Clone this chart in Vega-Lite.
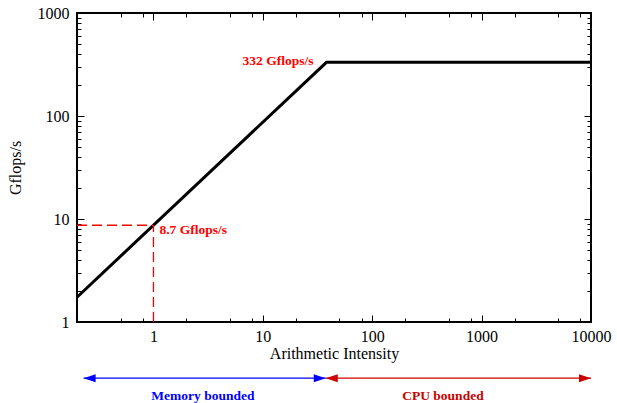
{
  "$schema": "https://vega.github.io/schema/vega-lite/v6.json",
  "width": 514,
  "height": 309,
  "autosize": {"type": "none"},
  "padding": {"left": 77, "top": 13, "right": 26, "bottom": 81},
  "background": "white",
  "config": {
    "font": "Liberation Serif",
    "view": {"stroke": "black", "strokeWidth": 2},
    "axis": {
      "domain": false,
      "ticks": true,
      "tickColor": "black",
      "tickWidth": 1,
      "labelFont": "Liberation Serif",
      "labelFontSize": 16,
      "labelColor": "black",
      "titleFont": "Liberation Serif",
      "titleFontSize": 16,
      "titleFontWeight": "normal",
      "titleColor": "black",
      "grid": false,
      "labelOverlap": false,
      "labelFlush": false
    }
  },
  "datasets": {
    "roof": [
      {"ai": 0.2, "gf": 1.74},
      {"ai": 38.16, "gf": 332},
      {"ai": 10000, "gf": 332}
    ],
    "hdash": [{"ai": 0.2, "ai2": 1, "gf": 8.7}],
    "vdash": [{"ai": 1, "gf": 1, "gf2": 8.7}],
    "knee": [{"ai": 38.16, "gf": 332, "text": "332 Gflops/s"}],
    "point": [{"ai": 1, "gf": 8.7, "text": "8.7 Gflops/s"}],
    "arrows": [
      {"ai": 0.23, "ai2": 37.6, "gf": 0.285, "region": "memory"},
      {"ai": 37.6, "ai2": 10000, "gf": 0.285, "region": "cpu"}
    ],
    "heads": [
      {"ai": 0.23, "gf": 0.285, "region": "memory", "dir": "left"},
      {"ai": 37.6, "gf": 0.285, "region": "memory", "dir": "right"},
      {"ai": 37.6, "gf": 0.285, "region": "cpu", "dir": "left"},
      {"ai": 10000, "gf": 0.285, "region": "cpu", "dir": "right"}
    ],
    "regions": [
      {"ai": 2.83, "gf": 0.19, "region": "memory", "text": "Memory bounded"},
      {"ai": 443, "gf": 0.19, "region": "cpu", "text": "CPU bounded"}
    ]
  },
  "layer": [
    {
      "data": {"name": "roof"},
      "mark": {"type": "line", "color": "black", "strokeWidth": 3, "clip": false},
      "encoding": {
        "x": {
          "field": "ai", "type": "quantitative",
          "scale": {"type": "log", "domain": [0.2, 10000], "nice": false},
          "axis": {"orient": "bottom", "title": "Arithmetic Intensity", "titlePadding": 1, "values": [1, 10, 100, 1000, 10000], "format": "d", "offset": -7, "tickSize": 7, "labelPadding": 6}
        },
        "y": {
          "field": "gf", "type": "quantitative",
          "scale": {"type": "log", "domain": [1, 1000], "nice": false},
          "axis": {"orient": "left", "title": "Gflops/s", "titlePadding": 14, "values": [1, 10, 100, 1000], "format": "d", "offset": -7, "tickSize": 7, "labelPadding": 8}
        }
      }
    },
    {
      "data": {"name": "hdash"},
      "mark": {"type": "rule", "color": "#ff0000", "strokeWidth": 1.3, "strokeDash": [10, 5]},
      "encoding": {
        "x": {
          "field": "ai", "type": "quantitative",
          "scale": {"type": "log", "domain": [0.2, 10000], "nice": false},
          "axis": {"orient": "top", "title": null, "labels": false, "values": [1, 10, 100, 1000, 10000], "tickSize": -7}
        },
        "x2": {"field": "ai2"},
        "y": {
          "field": "gf", "type": "quantitative",
          "scale": {"type": "log", "domain": [1, 1000], "nice": false},
          "axis": {"orient": "right", "title": null, "labels": false, "values": [1, 10, 100, 1000], "tickSize": -7}
        }
      }
    },
    {
      "data": {"name": "vdash"},
      "mark": {"type": "rule", "color": "#ff0000", "strokeWidth": 1.3, "strokeDash": [10, 5]},
      "encoding": {
        "x": {
          "field": "ai", "type": "quantitative",
          "scale": {"type": "log", "domain": [0.2, 10000], "nice": false},
          "axis": {"orient": "bottom", "title": null, "labels": false, "offset": -4, "tickSize": 4, "values": [0.5, 0.8, 2, 5, 8, 20, 50, 80, 200, 500, 800, 2000, 5000, 8000]}
        },
        "y": {
          "field": "gf", "type": "quantitative",
          "scale": {"type": "log", "domain": [1, 1000], "nice": false},
          "axis": {"orient": "left", "title": null, "labels": false, "offset": -4, "tickSize": 4, "values": [2, 3, 4, 5, 6, 7, 8, 9, 20, 30, 40, 50, 60, 70, 80, 90, 200, 300, 400, 500, 600, 700, 800, 900]}
        },
        "y2": {"field": "gf2"}
      }
    },
    {
      "data": {"name": "knee"},
      "mark": {"type": "text", "color": "#ff0000", "fontSize": 13.5, "fontWeight": "bold", "font": "Liberation Serif", "baseline": "middle", "align": "right", "dx": -13, "dy": -1},
      "encoding": {
        "x": {
          "field": "ai", "type": "quantitative",
          "scale": {"type": "log", "domain": [0.2, 10000], "nice": false},
          "axis": {"orient": "top", "title": null, "labels": false, "tickSize": -4, "values": [0.5, 0.8, 2, 5, 8, 20, 50, 80, 200, 500, 800, 2000, 5000, 8000]}
        },
        "y": {
          "field": "gf", "type": "quantitative",
          "scale": {"type": "log", "domain": [1, 1000], "nice": false},
          "axis": {"orient": "right", "title": null, "labels": false, "tickSize": -4, "values": [2, 3, 4, 5, 6, 7, 8, 9, 20, 30, 40, 50, 60, 70, 80, 90, 200, 300, 400, 500, 600, 700, 800, 900]}
        },
        "text": {"field": "text"}
      }
    },
    {
      "data": {"name": "point"},
      "mark": {"type": "text", "color": "#ff0000", "fontSize": 13.5, "fontWeight": "bold", "font": "Liberation Serif", "baseline": "middle", "align": "left", "dx": 6, "dy": 5},
      "encoding": {
        "x": {"field": "ai", "type": "quantitative", "scale": {"type": "log", "domain": [0.2, 10000], "nice": false}, "axis": null},
        "y": {"field": "gf", "type": "quantitative", "scale": {"type": "log", "domain": [1, 1000], "nice": false}, "axis": null},
        "text": {"field": "text"}
      }
    },
    {
      "data": {"name": "arrows"},
      "mark": {"type": "rule", "strokeWidth": 1.3, "clip": false},
      "encoding": {
        "x": {"field": "ai", "type": "quantitative", "scale": {"type": "log", "domain": [0.2, 10000], "nice": false}, "axis": null},
        "x2": {"field": "ai2"},
        "y": {"field": "gf", "type": "quantitative", "scale": {"type": "log", "domain": [1, 1000], "nice": false}, "axis": null},
        "color": {"field": "region", "type": "nominal", "scale": {"domain": ["memory", "cpu"], "range": ["#0000ff", "#cc0000"]}, "legend": null}
      }
    },
    {
      "data": {"name": "heads"},
      "mark": {"type": "point", "filled": true, "opacity": 1, "size": 144, "strokeWidth": 0, "clip": false},
      "encoding": {
        "x": {"field": "ai", "type": "quantitative", "scale": {"type": "log", "domain": [0.2, 10000], "nice": false}, "axis": null},
        "y": {"field": "gf", "type": "quantitative", "scale": {"type": "log", "domain": [1, 1000], "nice": false}, "axis": null},
        "color": {"field": "region", "type": "nominal", "scale": {"domain": ["memory", "cpu"], "range": ["#0000ff", "#cc0000"]}, "legend": null},
        "shape": {"field": "dir", "type": "nominal", "scale": {"domain": ["left", "right"], "range": ["M0,0L2,-0.67L2,0.67Z", "M0,0L-2,-0.67L-2,0.67Z"]}, "legend": null}
      }
    },
    {
      "data": {"name": "regions"},
      "mark": {"type": "text", "fontSize": 13.5, "fontWeight": "bold", "font": "Liberation Serif", "baseline": "middle", "align": "center", "clip": false},
      "encoding": {
        "x": {"field": "ai", "type": "quantitative", "scale": {"type": "log", "domain": [0.2, 10000], "nice": false}, "axis": null},
        "y": {"field": "gf", "type": "quantitative", "scale": {"type": "log", "domain": [1, 1000], "nice": false}, "axis": null},
        "text": {"field": "text"},
        "color": {"field": "region", "type": "nominal", "scale": {"domain": ["memory", "cpu"], "range": ["#0000ff", "#cc0000"]}, "legend": null}
      }
    }
  ],
  "resolve": {"axis": {"x": "independent", "y": "independent"}}
}
